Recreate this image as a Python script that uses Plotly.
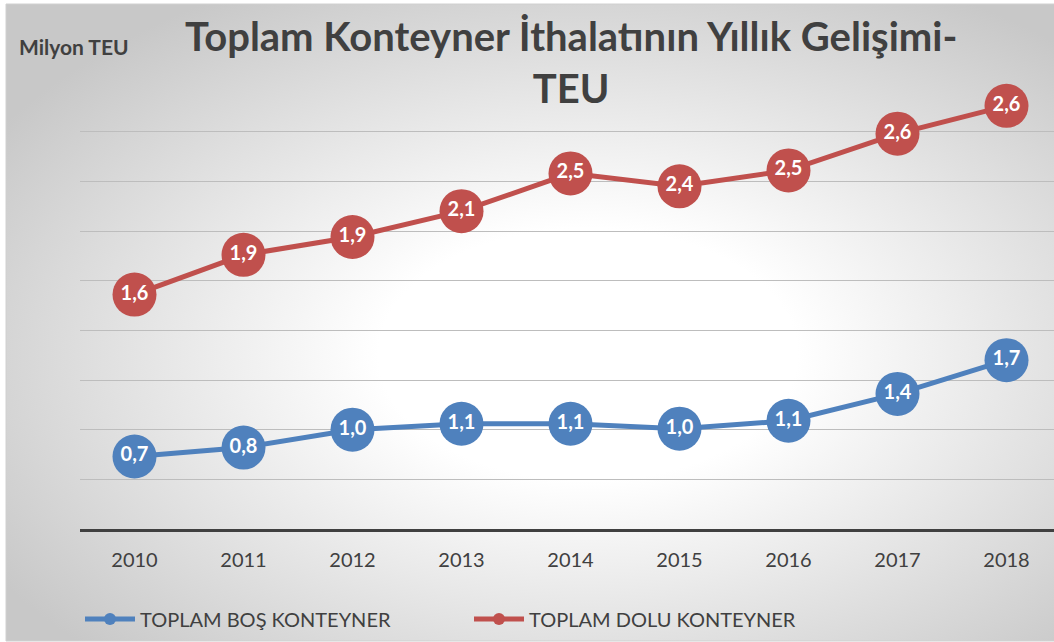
import numpy as np
import plotly.graph_objects as go
from urllib.parse import quote

years = ["2010", "2011", "2012", "2013", "2014", "2015", "2016", "2017", "2018"]
bos = [0.73, 0.82, 1.00, 1.06, 1.06, 1.01, 1.09, 1.36, 1.70]
dolu = [1.63, 1.94, 1.94, 2.14, 2.52, 2.44, 2.52, 2.62, 2.56]
series_names = ["TOPLAM BOŞ KONTEYNER", "TOPLAM DOLU KONTEYNER"]
colors = ["#4F81BD", "#C0504D"]
title_text = "Toplam Konteyner İthalatının Yıllık Gelişimi-<br>TEU"
y_title = "Milyon TEU"

def fmt(v):
    return f"{v:.1f}".replace(".", ",")

W, H = 1054, 642
ml, mr, mt, mb = 80, 0, 82, 113
pw, ph = W - ml - mr, H - mt - mb

FONT = "Lato"

fig = go.Figure()
for name, vals, col in zip(series_names, [bos, dolu], colors):
    fig.add_trace(go.Scatter(
        x=years, y=vals, name=name, stackgroup="one", fill="none",
        mode="lines+markers+text",
        line=dict(color=col, width=5),
        marker=dict(color=col, size=44, line=dict(width=0)),
        text=[fmt(v) for v in vals], textposition="middle center",
        textfont=dict(family=FONT, size=20, color="white", weight="bold"),
        cliponaxis=False,
    ))

def px2x(px):
    return (px - ml) / pw

def py2y(py):
    return (H - mb - py) / ph

svg = ('<svg xmlns="http://www.w3.org/2000/svg" width="1000" height="1000" preserveAspectRatio="none">'
       '<defs><radialGradient id="g" cx="0.55" cy="0.55" r="0.66">'
       '<stop offset="0" stop-color="#ffffff"/><stop offset="0.3" stop-color="#ffffff"/>'
       '<stop offset="1" stop-color="#c8c8c8"/></radialGradient></defs>'
       '<rect width="1000" height="1000" fill="url(#g)"/></svg>')
src = "data:image/svg+xml;charset=utf-8," + quote(svg)

fig.update_layout(
    width=W, height=H,
    margin=dict(l=ml, r=mr, t=mt, b=mb),
    paper_bgcolor="white", plot_bgcolor="rgba(0,0,0,0)",
    font=dict(family=FONT, color="#404040"),
    xaxis=dict(type="category", range=[-0.5, -0.5 + pw / 109.0], showgrid=False,
               showline=True, linecolor="#404040", linewidth=3, ticks="",
               tickfont=dict(family=FONT, size=20, color="#404040"),
               ticklabelstandoff=11, fixedrange=True),
    yaxis=dict(range=[0, 4.5], dtick=0.5, showticklabels=False, showgrid=True,
               gridcolor="#bdbdbd", gridwidth=1, zeroline=False, fixedrange=True),
    showlegend=True,
    legend=dict(orientation="h", x=0, xanchor="left", y=py2y(619), yanchor="middle",
                font=dict(family=FONT, size=20, color="#404040"),
                itemsizing="constant", itemwidth=50, entrywidth=324, entrywidthmode="pixels",
                bgcolor="rgba(0,0,0,0)", traceorder="normal"),
    annotations=[
        dict(text="<b>" + title_text + "</b>", xref="paper", yref="paper",
             x=px2x(571), y=py2y(62), xanchor="center", yanchor="middle",
             showarrow=False, align="center",
             font=dict(family=FONT, size=40, color="#404040")),
        dict(text="<b>" + y_title + "</b>", xref="paper", yref="paper",
             x=px2x(17), y=py2y(47), xanchor="left", yanchor="middle",
             showarrow=False, font=dict(family=FONT, size=21, color="#404040")),
    ],
    images=[dict(source=src, xref="paper", yref="paper", x=px2x(6), y=py2y(4),
                 sizex=(W + 10 - 6) / pw, sizey=(641 - 4) / ph, sizing="stretch",
                 xanchor="left", yanchor="top", layer="below")],
    shapes=[dict(type="rect", xref="paper", yref="paper", x0=px2x(6), x1=px2x(W + 5),
                 y0=py2y(641), y1=py2y(4), line=dict(color="#d0d0d0", width=1),
                 layer="below")],
)

fig.write_html("out.html", config={"displayModeBar": False},
               post_script="document.body.style.margin='0';document.body.style.overflow='hidden';")
